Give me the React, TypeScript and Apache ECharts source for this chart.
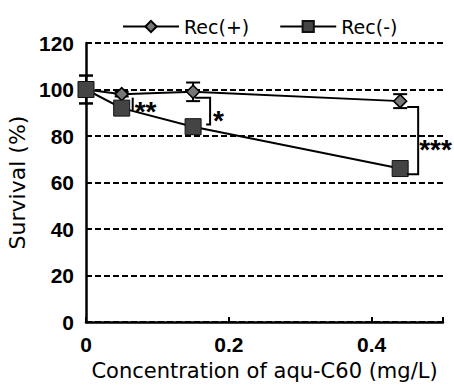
import React, { useEffect, useRef } from "react";
import * as echarts from "echarts";

const concentrations = [0, 0.05, 0.15, 0.44];
const recPlus = [100, 98, 99, 95];
const recMinus = [100, 92, 84, 66];
const errPlus = [6, 1, 4, 3];
const errMinus = [6, 2, 2, 2];
const yTicks = [0, 20, 40, 60, 80, 100, 120];
const xTicks = [0, 0.2, 0.4];
// significance brackets: [x, yTop, yBottom, label]
const brackets: [number, number, number, string][] = [
  [0.05, 96.5, 91, "**"],
  [0.15, 96.5, 85, "*"],
  [0.44, 92.5, 63.5, "***"],
];

const TICKFONT = "'Liberation Sans', Arial, sans-serif";
const FONT = "'DejaVu Sans', sans-serif";

export default function App() {
  const ref = useRef<HTMLDivElement>(null);
  useEffect(() => {
    if (!ref.current) return;
    const chart = echarts.init(ref.current, undefined, { renderer: "svg" });
    const errData = concentrations.map((c, i) => [c, recPlus[i], errPlus[i]]);
    const errDataM = concentrations.map((c, i) => [c, recMinus[i], errMinus[i]]);
    const errRender = (params: any, api: any) => {
      const x = api.value(0);
      const y = api.value(1);
      const e = api.value(2);
      const top = api.coord([x, y + e]);
      const bot = api.coord([x, y - e]);
      const w = 7;
      const style = { stroke: "#000", lineWidth: 2 };
      return {
        type: "group",
        children: [
          { type: "line", shape: { x1: top[0], y1: top[1], x2: bot[0], y2: bot[1] }, style },
          { type: "line", shape: { x1: top[0] - w, y1: top[1], x2: top[0] + w, y2: top[1] }, style },
          { type: "line", shape: { x1: bot[0] - w, y1: bot[1], x2: bot[0] + w, y2: bot[1] }, style },
        ],
      };
    };
    const starStyle = (text: string, x: number, y: number) => ({
      text, x, y: y + 7, fontSize: 28, fontFamily: TICKFONT, fontWeight: "bold", fill: "#000", align: "left", verticalAlign: "middle",
    });
    const bracketRender = (params: any, api: any) => {
      const b = brackets[params.dataIndex];
      const top = api.coord([b[0], b[1]]);
      const bot = api.coord([b[0], b[2]]);
      const style = { stroke: "#000", lineWidth: 2, fill: "none" };
      const children: any[] = [];
      if (b[3] === "**") {
        const x = top[0] + 11;
        children.push({ type: "line", shape: { x1: x, y1: top[1], x2: x, y2: bot[1] }, style });
        children.push({ type: "text", style: starStyle(b[3], x + 2, (top[1] + bot[1]) / 2) });
      } else if (b[3] === "*") {
        const x0 = top[0] + 2;
        const x1 = top[0] + 17;
        children.push({ type: "polyline", shape: { points: [[x0, top[1]], [x1, top[1]], [x1, bot[1]], [x1 - 4, bot[1]]] }, style });
        children.push({ type: "text", style: starStyle(b[3], x1 + 3, (top[1] + bot[1]) / 2 + 2) });
      } else {
        const x0 = top[0] + 7;
        const x1 = top[0] + 18;
        children.push({ type: "polyline", shape: { points: [[x0, top[1]], [x1, top[1]], [x1, bot[1]], [x0, bot[1]]] }, style });
        children.push({ type: "text", style: starStyle(b[3], x1 + 1, (top[1] + bot[1]) / 2 + 2) });
      }
      return { type: "group", children };
    };
    chart.setOption({
      animation: false,
      backgroundColor: "#fff",
      textStyle: { fontFamily: FONT },
      grid: { left: 86, right: 11, top: 43, bottom: 66, outerBoundsMode: "none", containLabel: false },
      legend: {
        top: 12,
        left: 117,
        itemGap: 30,
        itemWidth: 56,
        itemHeight: 14,
        textStyle: { fontSize: 19, fontFamily: FONT, color: "#000" },
        data: ["Rec(+)", "Rec(-)"],
      },
      xAxis: {
        type: "value",
        min: 0,
        max: 0.5,
        interval: 0.2,
        name: "Concentration of aqu-C60 (mg/L)",
        nameLocation: "middle",
        nameGap: 38,
        nameTextStyle: { fontSize: 21, fontFamily: FONT, color: "#000" },
        axisLine: { lineStyle: { color: "#000", width: 2.5 } },
        axisTick: { inside: true, length: 5, lineStyle: { color: "#000", width: 2 } },
        axisLabel: {
          fontSize: 21, fontWeight: "bold", color: "#000", margin: 12, fontFamily: TICKFONT,
          formatter: (v: number) => (xTicks.includes(Math.round(v * 10) / 10) ? String(Math.round(v * 10) / 10) : ""),
        },
        splitLine: { show: false },
      },
      yAxis: {
        type: "value",
        min: 0,
        max: 120,
        interval: 20,
        name: "Survival (%)",
        nameLocation: "middle",
        nameGap: 57,
        nameTextStyle: { fontSize: 22, fontFamily: FONT, color: "#000" },
        axisLine: { show: true, lineStyle: { color: "#000", width: 2.5 } },
        axisTick: { show: true, inside: true, length: 3, lineStyle: { color: "#000" } },
        axisLabel: {
          fontSize: 21, fontWeight: "bold", color: "#000", margin: 12, fontFamily: TICKFONT,
          formatter: (v: number) => (yTicks.includes(v) ? String(v) : ""),
        },
        splitLine: { show: true, lineStyle: { color: "#000", type: [6, 3], width: 2 } },
      },
      series: [
        {
          name: "Rec(+)",
          type: "line",
          data: concentrations.map((c, i) => [c, recPlus[i]]),
          symbol: "diamond",
          symbolSize: 13,
          itemStyle: { color: "#777", borderColor: "#000", borderWidth: 1.5 },
          lineStyle: { color: "#000", width: 2 },
          z: 3,
        },
        {
          name: "Rec(-)",
          type: "line",
          data: concentrations.map((c, i) => [c, recMinus[i]]),
          symbol: "rect",
          symbolSize: 16,
          itemStyle: { color: "#444", borderColor: "#111", borderWidth: 1 },
          lineStyle: { color: "#000", width: 2 },
          z: 4,
        },
        { type: "custom", renderItem: errRender, data: errData, z: 2, silent: true },
        { type: "custom", renderItem: errRender, data: errDataM, z: 2, silent: true },
        { type: "custom", renderItem: bracketRender, data: brackets.map((b) => [b[0], b[1]]), z: 5, silent: true, clip: false },
      ],
    });
    return () => chart.dispose();
  }, []);
  return <div ref={ref} style={{ width: 454, height: 388, position: "absolute", left: 0, top: 0 }} />;
}
